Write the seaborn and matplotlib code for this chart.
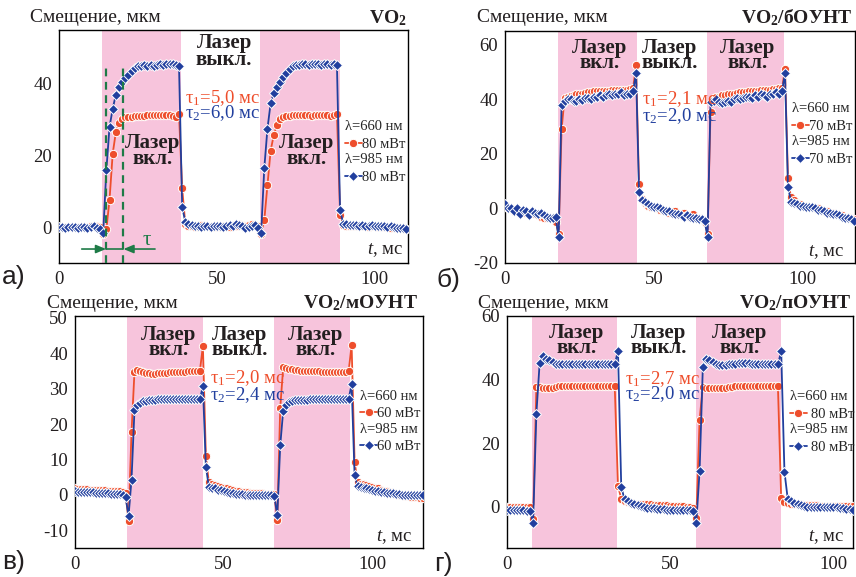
import numpy as np
import pandas as pd
import matplotlib
matplotlib.use("Agg")
import matplotlib.pyplot as plt
from matplotlib.ticker import MultipleLocator
import seaborn as sns

# ---------------------------------------------------------------------------
# Measured displacement (мкм) sampled every 1 ms
# ---------------------------------------------------------------------------
# а) VO2
red_a = [0.0, 0.0, 0.0, 0.0, 0.0, 0.0, 0.0, 0.0, 0.0, 0.0, 0.2, 0.3, 0.3, 0.0, -2.0,
         -0.6, 7.7, 20.5, 26.5, 29.0, 30.3, 30.7, 30.8, 30.8, 31.0,
         31.0, 31.0, 31.0, 31.2, 31.2, 31.2, 31.2, 31.2, 31.3, 31.3, 31.2, 31.0, 30.8, 31.5,
         10.8, 0.8, 0.3,
         0.2, 0.0, 0.2, 0.5, 0.3, 0.2, 0.0, 0.2, 0.0, 0.2, 0.3, 0.2, 0.0, 0.5, 0.3, 0.8, 0.5, 0.2, 0.5, 0.8, 0.5,
         0.3, -2.0,
         2.0, 11.7, 21.3, 25.7, 28.5, 30.2, 30.7, 31.0, 31.0, 31.2,
         31.2, 31.2, 31.2, 31.2, 31.2, 31.0, 31.2, 31.2, 31.2, 31.2, 31.2, 31.0, 31.2, 31.6,
         3.5, 0.5,
         0.3, 0.3, 0.2, 0.2, 0.3, 0.2, 0.2, 0.0, 0.2, 0.2, 0.0, 0.2, 0.0, 0.0, -0.2, 0.0, -0.2, -0.3, -0.3, -0.5]
blue_a = [0.0, 0.0, -0.1, 0.0, 0.1, 0.0, -0.1, 0.0, 0.0, -0.2, 0.0, 0.2, -0.3, -0.5, -1.5,
          16.0, 28.0, 33.0, 37.0, 39.0, 40.5, 41.5, 42.5, 43.5, 44.3,
          45.0, 45.0, 45.2, 45.0, 45.2, 45.0, 45.3, 45.4, 45.3, 45.5, 45.5, 45.6, 45.3, 45.0,
          5.5, 1.5, 1.0,
          0.5, 0.3, 0.2, 0.0, 0.2, 0.3, 0.0, 0.2, 0.3, 0.2, 0.0, 0.3, 0.5, 0.3, 0.8, 0.5, 0.2, -0.3, 0.0, 0.3, 0.5,
          -0.3, -1.5,
          16.5, 27.5, 34.5, 37.5, 39.0, 40.5, 42.0, 43.0, 44.0, 45.0,
          45.2, 45.3, 45.5, 45.5, 45.3, 45.5, 45.6, 45.5, 45.3, 45.6, 45.5, 45.3, 45.5, 45.3,
          4.7, 1.0,
          0.8, 0.6, 0.5, 0.5, 0.4, 0.5, 0.3, 0.3, 0.5, 0.3, 0.2, 0.3, 0.2, 0.0, 0.2, 0.0, -0.2, -0.2, -0.3, -0.5]
laser_on_a = [(13.6, 38.6), (63.6, 88.9)]

# б) VO2/бОУНТ
red_b = [1.0, 0.0, 0.0, -1.0, -0.5, -1.5, -1.0, -1.5, -2.0, -1.5, -2.0, -2.5, -3.0, -3.5, -3.5, -3.5, -3.5, -4.8,
         -9.5,
         29.0, 40.5, 41.0, 41.3, 41.5, 41.8, 42.0, 42.0, 42.3, 42.5, 42.7, 43.0, 43.0, 43.0, 43.0, 43.2, 43.2,
         43.3, 43.5, 43.3, 43.5, 43.5, 43.3, 43.8, 44.0,
         52.5,
         9.0, 3.5, 2.0, 1.0, 0.5, 0.5, 0.0, -0.5, -0.5, -1.0, -1.5, -1.5, -1.0, -2.0, -2.0, -1.5, -2.5, -3.0,
         -2.0, -3.5, -3.5, -4.0, -4.8,
         -9.5,
         35.5, 40.5, 41.0, 41.0, 41.5, 41.5, 41.8, 42.0, 42.0, 42.3, 42.5, 42.5, 42.7, 43.0, 43.0, 43.0, 43.2,
         43.3, 43.5, 43.5, 43.5, 43.7, 43.8, 44.0, 44.0,
         51.0,
         11.0, 4.0, 3.0, 2.0, 1.5, 1.0, 1.0, 0.5, 0.5, 0.0, 0.0, -0.5, -1.0, -1.0, -1.5, -1.5, -2.0, -2.0,
         -2.5, -3.0, -3.0, -3.5, -4.0]
blue_b = [1.5, 0.0, 0.3, -1.0, 0.0, -2.0, -0.5, -1.0, -2.5, -1.0, -1.5, -2.0, -1.5, -2.5, -3.0, -3.5, -3.5, -3.3,
          -10.5,
          38.0, 39.5, 40.0, 40.0, 39.5, 39.5, 40.0, 39.8, 40.5, 40.3, 40.0, 41.0, 40.8, 41.5, 41.0, 41.5, 42.0,
          41.5, 42.0, 41.8, 42.5, 41.5, 42.0, 42.0, 43.0,
          49.5,
          6.0, 3.0, 2.5, 1.5, 1.0, 0.5, 0.5, 0.0, -0.5, -1.0, -1.0, -1.5, -2.0, -2.0, -2.5, -3.0, -2.5, -3.0,
          -3.5, -3.5, -4.0, -4.0, -4.5,
          -10.5,
          39.0, 39.5, 40.0, 39.0, 38.5, 39.0, 39.5, 39.0, 40.0, 40.5, 40.0, 40.5, 41.0, 41.0, 40.5, 41.5, 41.0,
          42.0, 41.5, 41.0, 42.0, 42.0, 42.5, 42.0, 43.0,
          49.5,
          8.0, 2.5, 2.0, 1.5, 1.0, 1.0, 0.5, 0.5, 0.5, 0.0, -0.5, -0.5, -1.0, -1.5, -1.5, -2.0, -2.0, -2.5,
          -3.0, -3.5, -3.5, -4.0, -4.5]
laser_on_b = [(17.8, 44.3), (67.8, 93.6)]

# в) VO2/мОУНТ
red_c = [1.8, 1.7, 1.7, 1.6, 1.6, 1.5, 1.5, 1.5, 1.4, 1.4, 1.3, 1.2, 1.2, 1.1, 1.0, 1.0, 0.9, 0.5,
         -7.3,
         17.7, 34.8, 35.2, 35.0, 34.7, 34.5, 34.3, 34.2, 34.2, 34.3, 34.4, 34.5, 34.5, 34.6, 34.7, 34.7, 34.8,
         34.8, 34.8, 34.9, 35.0, 35.0, 35.0, 35.1,
         42.0,
         11.0, 3.5, 3.0, 2.8, 2.5, 2.3, 2.0, 1.8, 1.6, 1.4, 1.2, 1.0, 0.9, 0.8, 0.7, 0.6, 0.5, 0.5, 0.4, 0.4,
         0.3, 0.3, 0.3, 0.3,
         -7.0,
         24.6, 36.0, 35.8, 35.6, 35.4, 35.3, 35.2, 35.1, 35.0, 35.0, 35.0, 34.9, 34.9, 34.9, 34.8, 34.8, 34.8,
         34.8, 34.8, 34.8, 34.8, 34.8, 34.8, 34.9,
         42.3,
         9.4, 3.5, 3.2, 3.0, 2.7, 2.5, 2.3, 2.0, 1.8, 1.5, 1.2, 1.0, 0.8, 0.5, 0.3, 0.1, 0.0, -0.2, -0.4, -0.5,
         -0.6, -0.7, -0.8, -0.8]
blue_c = [1.0, 0.9, 0.9, 0.8, 0.8, 0.7, 0.7, 0.6, 0.6, 0.5, 0.5, 0.4, 0.3, 0.3, 0.2, 0.2, 0.1, -0.5,
          -6.0,
          4.3, 24.0, 25.3, 26.0, 26.4, 26.6, 26.8, 26.8, 26.9, 27.0, 27.0, 27.0, 27.0, 27.0, 27.0, 27.0, 27.0,
          27.0, 27.0, 27.0, 27.0, 27.0, 27.0, 27.0,
          30.8,
          8.0, 2.3, 2.0, 1.8, 1.5, 1.3, 1.0, 0.8, 0.6, 0.5, 0.3, 0.2, 0.2, 0.1, 0.0, 0.0, 0.0, 0.0, 0.0, 0.0,
          0.0, 0.0, 0.0, -0.2,
          -5.8,
          14.0, 23.8, 25.5, 26.3, 26.5, 26.7, 26.8, 26.8, 26.9, 26.9, 27.0, 27.0, 27.0, 27.0, 27.0, 27.0, 27.0,
          27.0, 27.0, 27.0, 27.0, 27.0, 27.0, 27.1,
          31.2,
          5.6, 2.5, 2.3, 2.0, 1.8, 1.6, 1.4, 1.2, 1.0, 0.9, 0.7, 0.6, 0.5, 0.4, 0.3, 0.2, 0.1, 0.0, 0.0, 0.0,
          -0.1, -0.1, 0.0, 0.0]
laser_on_c = [(17.5, 43.0), (67.0, 92.5)]

# г) VO2/пОУНТ
red_d = [0.0, 0.0, 0.0, 0.0, 0.0, 0.0, 0.0, 0.0,
         -3.8,
         37.8, 37.7, 37.5, 37.3, 37.3, 37.5, 37.8, 38.0, 38.0, 38.0, 38.0, 38.0, 38.0, 38.0, 38.0, 38.0, 38.0,
         38.0, 38.0, 38.0, 38.0, 38.0, 38.0, 38.0, 38.1,
         6.5,
         2.5, 1.8, 1.5, 1.2, 1.0, 1.0, 0.8, 0.8, 0.7, 0.7, 0.5, 0.5, 0.5, 0.5, 0.4, 0.3, 0.3, 0.3, 0.2, 0.2,
         0.0, -0.2, -0.3,
         -3.6,
         27.4, 37.8, 37.5, 37.5, 37.3, 37.3, 37.5, 37.5, 37.5, 37.7, 37.8, 38.0, 38.0, 38.0, 38.0, 38.0, 38.0,
         38.0, 38.0, 38.0, 38.0, 38.0, 38.0, 38.0, 37.9,
         2.6,
         1.5, 1.2, 1.0, 0.8, 0.8, 0.7, 0.5, 0.5, 0.5, 0.5, 0.5, 0.3, 0.3, 0.3, 0.3, 0.3, 0.2, 0.2, 0.2, 0.2,
         0.3, 0.3]
blue_d = [-1.0, -1.0, -1.2, -1.2, -1.0, -1.2, -1.3, -1.5,
          -5.0,
          29.3, 45.2, 47.3, 46.5, 46.0, 45.5, 45.0, 45.0, 44.8, 44.8, 44.8, 44.8, 44.8, 44.8, 44.8, 44.8, 44.8,
          44.8, 44.8, 44.8, 44.8, 44.8, 44.8, 44.8, 44.8,
          49.0,
          6.3, 2.3, 1.8, 1.3, 1.0, 0.5, 0.2, 0.0, -0.3, -0.5, -0.5, -0.7, -0.8, -0.8, -1.0, -1.0, -1.0, -1.0,
          -1.0, -1.2, -1.0, -1.2, -1.3,
          -5.0,
          11.2, 44.1, 46.5, 46.0, 45.5, 45.0, 44.6, 44.5, 44.5, 45.0, 45.0, 45.0, 45.2, 45.2, 45.2, 45.2, 45.0,
          45.0, 45.0, 45.0, 45.0, 45.0, 45.0, 44.8, 44.8,
          48.9,
          11.0, 2.5, 1.8, 1.3, 1.0, 0.5, 0.3, 0.0, 0.0, 0.0, -0.2, 0.0, 0.0, 0.0, 0.0, -0.2, 0.0, -0.3, -0.5,
          -0.8, -0.8, -1.0]
laser_on_d = [(7.7, 33.7), (58.0, 84.0)]

titles = ["VO$_\\mathbf{2}$", "VO$_\\mathbf{2}$/бОУНТ", "VO$_\\mathbf{2}$/мОУНТ", "VO$_\\mathbf{2}$/пОУНТ"]
letters = ["а)", "б)", "в)", "г)"]
powers = ["80 мВт", "70 мВт", "60 мВт", "80 мВт"]
tau1 = ["5,0", "2,1", "2,0", "2,7"]
tau2 = ["6,0", "2,0", "2,4", "2,0"]

# ---------------------------------------------------------------------------
# Style
# ---------------------------------------------------------------------------
sns.set_style("white")
plt.rcParams["font.family"] = ["Liberation Serif", "DejaVu Serif"]
plt.rcParams["mathtext.fontset"] = "custom"
plt.rcParams["mathtext.rm"] = "Liberation Serif"
plt.rcParams["mathtext.it"] = "Liberation Serif:italic"
plt.rcParams["mathtext.bf"] = "Liberation Serif:bold"
plt.rcParams["axes.unicode_minus"] = False

RED = "#ee4e2c"
BLUE = "#213f9e"
PINK = "#f7c4dc"
GREEN = "#1e7b47"
INK = "#231f20"

W, H = 856, 577
fig = plt.figure(figsize=(W / 100, H / 100), dpi=100)


def fx(x, y):
    return x / W, 1 - y / H


# layout of each panel (pixel box, axis ranges, annotation positions)
panels = [
    dict(box=(59, 30, 408, 263), xlim=(0, 110.5), ylim=(-10, 55), ymaj=20, ymin=10,
         on=laser_on_a, red=red_a, blue=blue_a,
         lab_on=[(0.269, 0.515, 0.446), (0.708, 0.515, 0.446)], lab_off=(0.473, 0.944, 0.871),
         tau=(0.361, 0.708, 0.644), leg=(0.819, 0.612), tpad=0.0,
         ylab=(30, 18), ttl=(407, 18), let=(2, 277), tlab=(0.986, 0.056)),
    dict(box=(505, 31, 855, 263), xlim=(0, 117.5), ylim=(-20, 65), ymaj=20, ymin=10,
         on=laser_on_b, red=red_b, blue=blue_b,
         lab_on=[(0.271, 0.927, 0.862), (0.694, 0.927, 0.862)], lab_off=(0.471, 0.927, 0.862),
         tau=(0.391, 0.707, 0.634), leg=(0.82, 0.692), tpad=0.0,
         ylab=(477, 18), ttl=(852, 18), let=(436, 280), tlab=(0.97, 0.045)),
    dict(box=(75, 316, 423, 548), xlim=(0, 117), ylim=(-15, 50.5), ymaj=10, ymin=5,
         on=laser_on_c, red=red_c, blue=blue_c,
         lab_on=[(0.27, 0.918, 0.853), (0.69, 0.918, 0.853)], lab_off=(0.474, 0.918, 0.853),
         tau=(0.388, 0.733, 0.66), leg=(0.82, 0.683), tpad=0.0,
         ylab=(47, 303), ttl=(418, 303), let=(2, 562), tlab=(0.968, 0.045)),
    dict(box=(507, 316, 853, 548), xlim=(0, 106), ylim=(-13, 60), ymaj=20, ymin=10,
         on=laser_on_d, red=red_d, blue=blue_d,
         lab_on=[(0.202, 0.927, 0.862), (0.673, 0.927, 0.862)], lab_off=(0.437, 0.927, 0.862),
         tau=(0.341, 0.728, 0.664), leg=(0.818, 0.679), tpad=0.3,
         ylab=(478, 303), ttl=(852, 303), let=(434, 564), tlab=(0.974, 0.047)),
]

for i, p in enumerate(panels):
    x0, y0, x1, y1 = p["box"]
    ax = fig.add_axes([x0 / W, 1 - y1 / H, (x1 - x0) / W, (y1 - y0) / H])
    ax_h = y1 - y0

    for a, b in p["on"]:
        ax.axvspan(a, b, color=PINK, lw=0, zorder=0)

    t = np.arange(len(p["red"]))
    df = pd.DataFrame({"t": t, "red": p["red"], "blue": p["blue"]})
    sns.lineplot(data=df, x="t", y="red", ax=ax, color=RED, lw=1.3, marker="o", ms=6.0,
                 mec="white", mew=0.7, label=powers[i], zorder=3)
    sns.lineplot(data=df, x="t", y="blue", ax=ax, color=BLUE, lw=1.3, marker="D", ms=5.3,
                 mec="white", mew=0.7, label=powers[i], zorder=4)

    ax.set_xlim(*p["xlim"])
    ax.set_ylim(*p["ylim"])
    ax.set_xlabel("")
    ax.set_ylabel("")
    ax.xaxis.set_major_locator(MultipleLocator(50))
    ax.xaxis.set_minor_locator(MultipleLocator(25))
    ax.yaxis.set_major_locator(MultipleLocator(p["ymaj"]))
    ax.yaxis.set_minor_locator(MultipleLocator(p["ymin"]))
    ax.tick_params(which="both", direction="in", length=4.5, width=1.0, color="black",
                   top=False, right=False)
    ax.tick_params(axis="x", labelsize=13.5, pad=6, labelcolor=INK)
    ax.tick_params(axis="y", labelsize=13.5, pad=5, labelcolor=INK)
    for s in ax.spines.values():
        s.set_color("black")
        s.set_linewidth(1.0)

    # laser state labels
    kw = dict(transform=ax.transAxes, ha="center", va="center", fontsize=15,
              fontweight="bold", color=INK, zorder=6)
    for (lx, ly1, ly2) in p["lab_on"]:
        ax.text(lx, ly1, "Лазер", **kw)
        ax.text(lx, ly2, "вкл.", **kw)
    lx, ly1, ly2 = p["lab_off"]
    ax.text(lx, ly1, "Лазер", **kw)
    ax.text(lx, ly2, "выкл.", **kw)

    # time constants
    tx, ty1, ty2 = p["tau"]
    ax.text(tx, ty1, "τ$_1$=" + tau1[i] + " мс", transform=ax.transAxes, ha="left",
            va="center", fontsize=13.5, color=RED, zorder=6)
    ax.text(tx, ty2, "τ$_2$=" + tau2[i] + " мс", transform=ax.transAxes, ha="left",
            va="center", fontsize=13.5, color=BLUE, zorder=6)

    # time axis caption
    ax.text(p["tlab"][0], p["tlab"][1], "$t$, мс", transform=ax.transAxes, ha="right",
            va="center", fontsize=13.5, color=INK)

    # legends: one block per wavelength
    handles, labels = ax.get_legend_handles_labels()
    ax.get_legend().remove()
    lgx, lgy = p["leg"]
    common = dict(loc="upper left", frameon=False, handlelength=1.15, handletextpad=p["tpad"],
                  borderpad=0, borderaxespad=0, alignment="left", fontsize=10.5,
                  title_fontsize=10.5, labelspacing=0.3)
    leg1 = ax.legend([handles[0]], [labels[0]], title="λ=660 нм",
                     bbox_to_anchor=(lgx, lgy), **common)
    ax.add_artist(leg1)
    ax.legend([handles[1]], [labels[1]], title="λ=985 нм",
              bbox_to_anchor=(lgx, lgy - 33 / ax_h), **common)

    # panel captions
    fig.text(*fx(*p["ylab"]), "Смещение, мкм", ha="left", va="center", fontsize=14, color=INK)
    fig.text(*fx(*p["ttl"]), titles[i], ha="right", va="center", fontsize=14,
             fontweight="bold", color=INK)
    fig.text(*fx(*p["let"]), letters[i], ha="left", va="center", fontsize=19,
             family=["Liberation Sans", "DejaVu Sans"], color=INK)

    if i == 0:
        # rise-time construction
        t_start, t_end = 14.9, 20.4
        ax.vlines([t_start, t_end], -10, 45.8, colors=GREEN, linestyles=(0, (3.5, 2.5)),
                  lw=1.6, zorder=5)
        ax.hlines(-6.1, t_start, t_end, colors=GREEN, lw=1.2, zorder=5)
        arr = dict(arrowstyle="-|>,head_length=0.6,head_width=0.25", color=GREEN, lw=1.2,
                   shrinkA=0, shrinkB=0)
        ax.annotate("", xy=(t_start, -6.1), xytext=(7.2, -6.1), arrowprops=arr, zorder=5)
        ax.annotate("", xy=(t_end, -6.1), xytext=(30.4, -6.1), arrowprops=arr, zorder=5)
        ax.text(27.8, -3.8, "τ", ha="center", va="center", fontsize=15, color=GREEN)

fig.savefig("out.png", dpi=100)
